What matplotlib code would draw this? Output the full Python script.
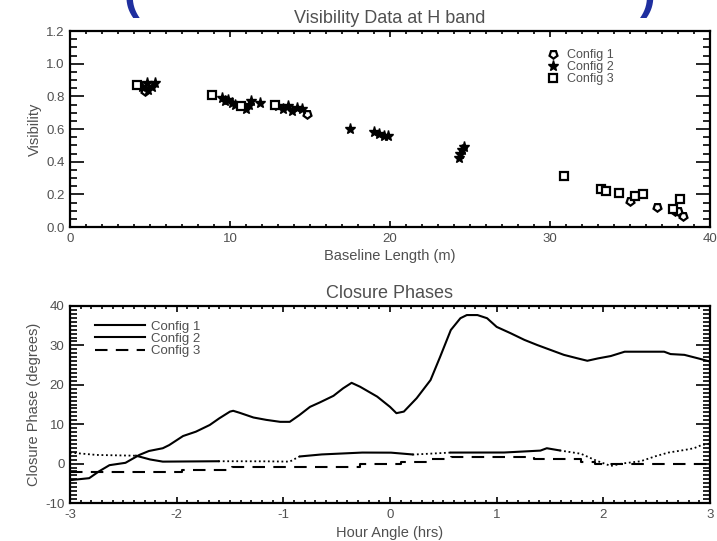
import numpy as np
import matplotlib
matplotlib.use("Agg")
import matplotlib.pyplot as plt
from matplotlib.ticker import MultipleLocator

plt.rcParams['font.family'] = ['Liberation Sans', 'DejaVu Sans']
plt.rcParams['axes.unicode_minus'] = False
TXT = '#505050'

# ---------------- Visibility data ----------------
c1_x = [4.7, 14.8, 35.0, 36.7, 37.8, 38.3, 38.0]
c1_y = [0.83, 0.69, 0.16, 0.12, 0.10, 0.07, 0.10]

c2_x = [4.5, 4.8, 5.1, 5.3, 4.9, 9.5, 9.7, 9.9, 10.1, 10.3, 11.0, 11.2, 11.3, 11.9,
        13.0, 13.3, 13.6, 13.9, 14.2, 14.5, 17.5, 19.0, 19.3, 19.6, 19.9,
        24.3, 24.4, 24.5, 24.6]
c2_y = [0.86, 0.88, 0.86, 0.88, 0.84, 0.79, 0.77, 0.78, 0.76, 0.75, 0.72, 0.75, 0.77, 0.76,
        0.74, 0.72, 0.74, 0.71, 0.73, 0.72, 0.60, 0.58, 0.57, 0.56, 0.56,
        0.42, 0.45, 0.47, 0.49]

c3_x = [4.2, 8.9, 10.7, 12.8, 30.9, 33.2, 33.5, 34.3, 35.3, 35.8, 38.1, 37.7]
c3_y = [0.87, 0.81, 0.74, 0.75, 0.31, 0.23, 0.22, 0.21, 0.19, 0.20, 0.17, 0.11]

# ---------------- Closure phase data ----------------
cp1_x = [-3.0, -2.82, -2.73, -2.63, -2.48, -2.35, -2.26, -2.13, -2.07, -1.94, -1.82,
         -1.69, -1.60, -1.50, -1.47, -1.41, -1.28, -1.16, -1.03, -0.94, -0.85, -0.75,
         -0.66, -0.53, -0.44, -0.36, -0.28, -0.12, 0.0, 0.06, 0.13, 0.25, 0.38, 0.47,
         0.57, 0.66, 0.72, 0.82, 0.91, 1.0, 1.13, 1.26, 1.38, 1.51, 1.63, 1.76, 1.85,
         1.95, 2.07, 2.20, 2.38, 2.57, 2.63, 2.76, 2.89, 3.0]
cp1_y = [-4.2, -3.7, -2.0, -0.4, 0.2, 2.2, 3.2, 3.9, 4.7, 7.0, 8.1,
         9.8, 11.5, 13.2, 13.4, 12.9, 11.7, 11.1, 10.6, 10.6, 12.3, 14.4,
         15.5, 17.2, 19.1, 20.5, 19.5, 17.0, 14.4, 12.8, 13.2, 16.6, 21.2, 27.1,
         33.9, 36.9, 37.7, 37.7, 36.9, 34.7, 33.1, 31.4, 30.1, 28.8, 27.6, 26.7, 26.1,
         26.7, 27.3, 28.4, 28.4, 28.4, 27.8, 27.6, 26.7, 25.9]

cp2_x = [-3.0, -2.76, -2.38, -2.26, -2.13, -1.60, -1.22, -0.94, -0.85, -0.66, -0.28,
         0.0, 0.22, 0.57, 0.72, 1.06, 1.41, 1.47, 1.60, 1.79, 1.92, 2.0, 2.07, 2.17,
         2.35, 2.48, 2.61, 2.73, 2.85, 2.92, 3.0]
cp2_y = [2.8, 2.2, 2.0, 1.1, 0.5, 0.6, 0.6, 0.5, 1.8, 2.3, 2.8,
         2.8, 2.3, 2.8, 2.8, 2.8, 3.3, 3.9, 3.3, 2.5, 0.9, 0.1, -0.6, 0.0,
         0.6, 1.8, 2.8, 3.3, 3.9, 4.7, 5.1]
cp2_solid_ranges = [(-2.38, -1.60), (-0.85, 0.22), (0.57, 1.60)]

cp3_x = [-3.0, -1.95, -1.95, -1.48, -1.48, -0.28, -0.28, 0.10, 0.10, 0.38, 0.38,
         0.57, 0.57, 1.35, 1.35, 1.79, 1.79, 1.92, 1.92, 3.0]
cp3_y = [-2.1, -2.1, -1.5, -1.5, -0.8, -0.8, 0.0, 0.0, 0.5, 0.5, 1.1,
         1.1, 1.6, 1.6, 1.1, 1.1, 0.5, 0.5, 0.0, 0.0]

labels = ['Config 1', 'Config 2', 'Config 3']

fig = plt.figure(figsize=(7.17, 5.41), dpi=100)

# decorative blue parentheses at top (clipped title in the source)
fig.text(131 / 717, 0.986, '(', color='#1f2f9f', fontsize=34, fontweight='bold',
         ha='center', va='baseline')
fig.text(648 / 717, 0.986, ')', color='#1f2f9f', fontsize=34, fontweight='bold',
         ha='center', va='baseline')

def style_axes(ax):
    for s in ax.spines.values():
        s.set_linewidth(1.6)
    ax.tick_params(which='both', direction='in', top=True, right=True,
                   labelsize=9.5, labelcolor=TXT, color='black', width=1.2, pad=4)
    ax.tick_params(axis='y', which='major', length=10)
    ax.tick_params(axis='y', which='minor', length=5)
    ax.tick_params(axis='x', which='major', length=4.5)
    ax.tick_params(axis='x', which='minor', length=2.2)

# ---------------- Top panel ----------------
ax1 = fig.add_axes([70 / 717, 1 - 227 / 541, 640 / 717, 196 / 541])
ax1.plot(c1_x, c1_y, linestyle='none', marker=(5, 0, 180), markersize=6,
         markerfacecolor='white', markeredgecolor='black', markeredgewidth=1.6,
         label=labels[0])
ax1.plot(c2_x, c2_y, linestyle='none', marker='*', markersize=8,
         markerfacecolor='black', markeredgecolor='black', label=labels[1])
ax1.plot(c3_x, c3_y, linestyle='none', marker='s', markersize=6,
         markerfacecolor='white', markeredgecolor='black', markeredgewidth=1.6,
         label=labels[2])
ax1.set_xlim(0, 40)
ax1.set_ylim(0, 1.2)
ax1.xaxis.set_major_locator(MultipleLocator(10))
ax1.xaxis.set_minor_locator(MultipleLocator(1))
ax1.yaxis.set_major_locator(MultipleLocator(0.2))
ax1.yaxis.set_minor_locator(MultipleLocator(0.05))
ax1.yaxis.set_major_formatter(matplotlib.ticker.FormatStrFormatter('%.1f'))
style_axes(ax1)
ax1.set_title('Visibility Data at H band', fontsize=13, color=TXT, pad=6)
ax1.set_xlabel('Baseline Length (m)', fontsize=10.5, color=TXT, labelpad=3)
ax1.set_ylabel('Visibility', fontsize=10.5, color=TXT, labelpad=3)
ax1.legend(loc='upper left', bbox_to_anchor=(0.735, 0.94), frameon=False,
           fontsize=9, labelcolor=TXT, handletextpad=0.6, labelspacing=0.0,
           borderpad=0, handlelength=1.0)

# ---------------- Bottom panel ----------------
ax2 = fig.add_axes([70 / 717, 1 - 503 / 541, 640 / 717, 197 / 541])
ax2.plot(cp1_x, cp1_y, color='black', linewidth=1.5, label=labels[0])
cp2x = np.array(cp2_x)
cp2y = np.array(cp2_y)
xf = np.linspace(-3, 3, 601)
yf = np.interp(xf, cp2x, cp2y)
solid_mask = np.zeros_like(xf, dtype=bool)
for a, b in cp2_solid_ranges:
    solid_mask |= (xf >= a) & (xf <= b)
dot_mask = ~solid_mask | np.roll(~solid_mask, 1) | np.roll(~solid_mask, -1)
ax2.plot(xf, np.where(dot_mask, yf, np.nan),
         color='black', linewidth=1.3, linestyle=(0, (1, 1.5)))
ax2.plot(xf, np.where(solid_mask, yf, np.nan), color='black', linewidth=1.5)
ax2.plot([], [], color='black', linewidth=1.5, label=labels[1])
ax2.plot(cp3_x, cp3_y, color='black', linewidth=1.5, linestyle=(0, (6, 4)),
         label=labels[2])
ax2.set_xlim(-3, 3)
ax2.set_ylim(-10, 40)
ax2.xaxis.set_major_locator(MultipleLocator(1))
ax2.xaxis.set_minor_locator(MultipleLocator(0.1))
ax2.yaxis.set_major_locator(MultipleLocator(10))
ax2.yaxis.set_minor_locator(MultipleLocator(1))
ax2.xaxis.set_major_formatter(matplotlib.ticker.FormatStrFormatter('%d'))
style_axes(ax2)
ax2.set_title('Closure Phases', fontsize=13, color=TXT, pad=6)
ax2.set_xlabel('Hour Angle (hrs)', fontsize=10.5, color=TXT, labelpad=4)
ax2.set_ylabel('Closure Phase (degrees)', fontsize=10.5, color=TXT, labelpad=3)
ax2.legend(loc='upper left', bbox_to_anchor=(0.028, 0.96), frameon=False,
           fontsize=9.5, labelcolor=TXT, handletextpad=0.5, labelspacing=0.0,
           borderpad=0, handlelength=3.8)

fig.savefig('out.png', dpi=100)
